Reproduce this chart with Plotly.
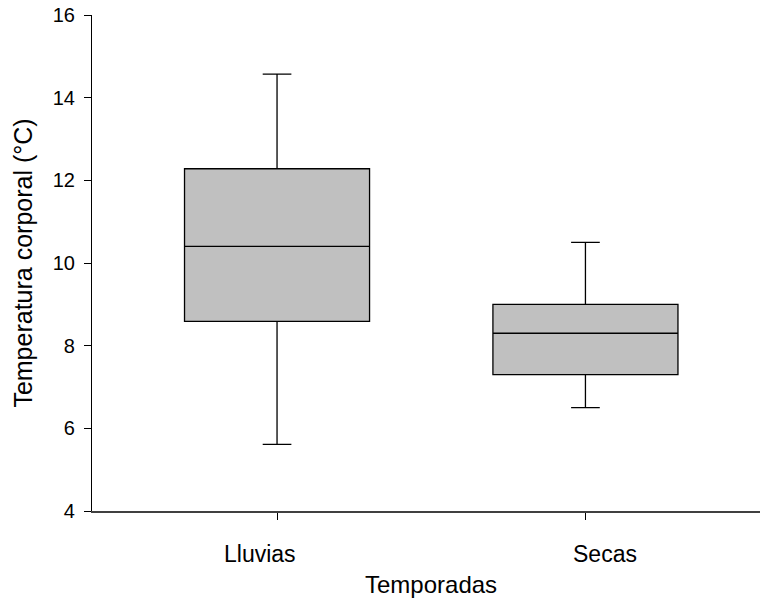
import plotly.graph_objects as go

categories = ["Lluvias", "Secas"]
lower_whisker = [5.61, 6.50]
q1_vals = [8.59, 7.30]
median_vals = [10.40, 8.30]
q3_vals = [12.28, 9.00]
upper_whisker = [14.57, 10.50]
y_ticks = [4, 6, 8, 10, 12, 14, 16]
label_offsets = [-17, 20]

fig = go.Figure()
fig.add_trace(go.Box(
    x=categories,
    q1=q1_vals,
    median=median_vals,
    q3=q3_vals,
    lowerfence=lower_whisker,
    upperfence=upper_whisker,
    boxpoints=False,
    width=0.6,
    whiskerwidth=0.155,
    fillcolor="#c0c0c0",
    line=dict(color="black", width=1.3),
    showlegend=False,
    hoverinfo="skip",
))

font = "Liberation Sans, Arial, sans-serif"

for cat, off in zip(categories, label_offsets):
    fig.add_annotation(
        x=cat, xref="x", y=0, yref="paper",
        text=cat, showarrow=False,
        xanchor="center", yanchor="top",
        xshift=off, yshift=-28,
        font=dict(size=23, family=font, color="black"),
    )

fig.update_layout(
    width=760, height=598,
    margin=dict(l=92, r=0, t=15, b=87),
    paper_bgcolor="white", plot_bgcolor="white",
    font=dict(family=font, color="black"),
    xaxis=dict(
        type="category",
        range=[-0.60, 1.566],
        showline=True, linecolor="#404040", linewidth=2,
        ticks="outside", ticklen=7, tickcolor="black", tickwidth=1,
        showticklabels=False,
        showgrid=False, zeroline=False,
    ),
    yaxis=dict(
        range=[4, 16],
        tickvals=y_ticks,
        showline=True, linecolor="black", linewidth=1.2,
        ticks="outside", ticklen=7, tickcolor="black", tickwidth=1,
        tickfont=dict(size=20, family=font),
        ticklabelstandoff=5,
        showgrid=False, zeroline=False,
        title=dict(text="Temperatura corporal (°C)", font=dict(size=25, family=font), standoff=12),
    ),
)

fig.add_annotation(
    x=0.5, xref="paper", y=0, yref="paper",
    text="Temporadas", showarrow=False,
    xanchor="center", yanchor="top", yshift=-58, xshift=5,
    font=dict(size=24, family=font, color="black"),
)

fig.write_html("out.html")
